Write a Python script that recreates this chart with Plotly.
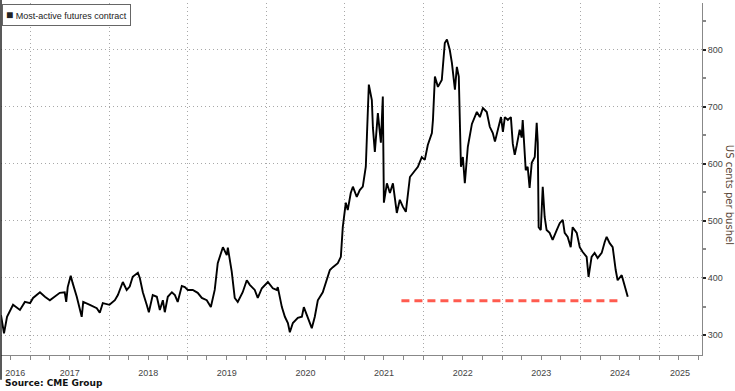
import plotly.graph_objects as go

# ---- data ----
dates = [
    "2016-08-17", "2016-08-31", "2016-09-14", "2016-10-12", "2016-11-13", "2016-12-06", "2016-12-30",
    "2017-01-13", "2017-02-14", "2017-03-09", "2017-04-01", "2017-04-24", "2017-05-17", "2017-06-09",
    "2017-06-16", "2017-06-23", "2017-07-07", "2017-07-16", "2017-08-04", "2017-08-27", "2017-09-03",
    "2017-10-04", "2017-11-05", "2017-11-19", "2017-12-03",
    "2018-01-03", "2018-01-28", "2018-02-11", "2018-03-06", "2018-03-24", "2018-04-07", "2018-04-21",
    "2018-05-10", "2018-05-15", "2018-05-24", "2018-06-07", "2018-06-25", "2018-07-05", "2018-07-23",
    "2018-08-11", "2018-08-25", "2018-09-08", "2018-09-17", "2018-10-01", "2018-10-20", "2018-11-03",
    "2018-11-16", "2018-12-05", "2018-12-19",
    "2019-01-02", "2019-01-25", "2019-02-17", "2019-03-08", "2019-03-31", "2019-04-19", "2019-05-07",
    "2019-05-21", "2019-06-09", "2019-06-14", "2019-07-02", "2019-07-07", "2019-07-25", "2019-08-08",
    "2019-08-22", "2019-09-14", "2019-10-03", "2019-10-17", "2019-11-09", "2019-11-23", "2019-12-12",
    "2020-01-04", "2020-01-09", "2020-02-01", "2020-02-19", "2020-02-24", "2020-03-14", "2020-03-28",
    "2020-04-11", "2020-04-20", "2020-05-04", "2020-05-27", "2020-06-15", "2020-06-24", "2020-07-08",
    "2020-07-31", "2020-08-14", "2020-08-28", "2020-09-20", "2020-10-09", "2020-10-23", "2020-11-06",
    "2020-11-29", "2020-12-13", "2020-12-22",
    "2021-01-05", "2021-01-14", "2021-01-28", "2021-02-07", "2021-02-25", "2021-03-11", "2021-03-25",
    "2021-04-08", "2021-04-13", "2021-04-22", "2021-05-06", "2021-05-11", "2021-05-20", "2021-05-29",
    "2021-06-03", "2021-06-17", "2021-06-26", "2021-07-01", "2021-07-15", "2021-07-29", "2021-08-12",
    "2021-08-30", "2021-09-13", "2021-09-27", "2021-10-11", "2021-10-30", "2021-11-13", "2021-12-06",
    "2021-12-24",
    "2022-01-07", "2022-01-21", "2022-02-09", "2022-02-14", "2022-02-23", "2022-03-09", "2022-03-27",
    "2022-04-10", "2022-04-20", "2022-05-03", "2022-05-13", "2022-05-27", "2022-06-05", "2022-06-14",
    "2022-06-24", "2022-07-03", "2022-07-12", "2022-07-26", "2022-08-14", "2022-09-06", "2022-09-20",
    "2022-10-04", "2022-10-22", "2022-11-05", "2022-11-19", "2022-11-29", "2022-12-13", "2022-12-27",
    "2023-01-05", "2023-01-14", "2023-01-28", "2023-02-11", "2023-02-20", "2023-03-01", "2023-03-10",
    "2023-03-24", "2023-04-02", "2023-04-07", "2023-04-21", "2023-04-30", "2023-05-09", "2023-05-19",
    "2023-06-02", "2023-06-11", "2023-06-16", "2023-06-20", "2023-06-30", "2023-07-09", "2023-07-18",
    "2023-07-27", "2023-08-10", "2023-08-24", "2023-09-12", "2023-09-26", "2023-10-10", "2023-10-19",
    "2023-11-02", "2023-11-16", "2023-11-25", "2023-12-14", "2023-12-28",
    "2024-01-10", "2024-01-29", "2024-02-07", "2024-02-21", "2024-03-06", "2024-03-20", "2024-04-08",
    "2024-04-22", "2024-05-01", "2024-05-15", "2024-05-29", "2024-06-12", "2024-06-21", "2024-07-10",
    "2024-07-24", "2024-08-07",
]
price = [
    335, 303, 332, 353, 344, 358, 356,
    365, 375, 367, 361, 367, 374, 375,
    358, 384, 404, 391, 367, 332, 358,
    353, 347, 339, 356,
    353, 361, 370, 393, 379, 385, 402,
    408, 409, 400, 375, 353, 340, 370,
    367, 344, 361, 340, 367, 375, 370,
    358, 386, 384,
    379, 379, 374, 365, 361, 349, 379,
    426, 449, 454, 440, 453, 411, 365,
    358, 375, 396, 388, 379, 365, 382,
    391, 393, 382, 379, 384, 349, 332,
    321, 305, 321, 330, 332, 349, 335,
    312, 332, 361, 375, 396, 414, 419,
    426, 437, 489,
    532, 519, 549, 560, 542, 554, 560,
    595, 647, 739, 712, 663, 621, 677,
    689, 637, 718, 532, 566, 549, 566,
    514, 537, 525, 516, 577, 584, 595,
    612,
    607, 633, 654, 677, 753, 735, 747,
    812, 818, 800, 777, 730, 770, 753,
    595, 612, 566, 630, 670, 691, 682,
    698, 691, 665, 654, 639, 660, 682,
    656, 682, 677, 682, 635, 616, 632,
    660, 646, 677, 589, 595, 558, 602,
    612, 672, 637, 489, 484, 560, 507,
    484, 479, 467, 484, 496, 502, 479,
    472, 454, 489, 479, 454,
    446, 437, 402, 437, 444, 435, 444,
    463, 472, 461, 454, 414, 396, 405,
    384, 367,
]

series_name = "Most-active futures contract"
year_starts = ["2017-01-01", "2018-01-01", "2019-01-01", "2020-01-01", "2021-01-01",
               "2022-01-01", "2023-01-01", "2024-01-01", "2025-01-01"]
quarter_ticks = [f"{y}-{m:02d}-01" for y in range(2016, 2026) for m in (1, 4, 7, 10)]
year_label_pos = ["2016-10-22", "2017-07-02", "2018-07-02", "2019-07-02", "2020-07-02",
                  "2021-07-02", "2022-07-02", "2023-07-02", "2024-07-02", "2025-04-07"]
year_labels = ["2016", "2017", "2018", "2019", "2020", "2021", "2022", "2023", "2024", "2025"]
y_ticks = [300, 400, 500, 600, 700, 800]

arrow_dates = ["2024-06-20", "2021-09-13"]
arrow_level = [360, 360]

x_range = ["2016-08-17", "2025-07-18"]
y_range = [265, 882]

FONT = "Liberation Sans, Arial"
RED = "#ff5b4f"
GRID = "#a8a8a8"

fig = go.Figure()

fig.add_trace(go.Scatter(
    x=dates, y=price, mode="lines", name=series_name,
    line=dict(color="black", width=1.9), showlegend=False,
))
# dashed red arrow shaft
fig.add_trace(go.Scatter(
    x=arrow_dates, y=arrow_level, mode="lines", showlegend=False,
    line=dict(color=RED, width=3, dash="8px,5px"), hoverinfo="skip",
))
# arrow head
fig.add_annotation(
    x=arrow_dates[1], y=arrow_level[1], ax="2021-10-05", ay=arrow_level[1],
    xref="x", yref="y", axref="x", ayref="y",
    showarrow=True, arrowhead=5, arrowsize=0.8, arrowwidth=2.5, arrowcolor=RED, text="",
)
# dummy trace on xaxis2 so the label axis renders
fig.add_trace(go.Scatter(x=[None], y=[None], xaxis="x2", showlegend=False, hoverinfo="skip"))

fig.update_layout(
    width=735, height=391,
    margin=dict(l=1, r=33, t=3, b=36),
    paper_bgcolor="white", plot_bgcolor="white",
    font=dict(family=FONT, size=9, color="#444"),
    showlegend=False,
    xaxis=dict(
        type="date", range=x_range,
        tickvals=year_starts, ticktext=[""] * len(year_starts),
        ticks="outside", ticklen=21, tickcolor="#b0b0b0", tickwidth=1,
        showgrid=True, gridcolor=GRID, griddash="1px,3px", gridwidth=1,
        showline=True, linecolor="#888", linewidth=1,
        minor=dict(tickvals=quarter_ticks, ticks="outside", ticklen=4, tickcolor="#888", showgrid=False),
        zeroline=False,
    ),
    xaxis2=dict(
        type="date", range=x_range, overlaying="x", side="bottom", anchor="y",
        tickvals=year_label_pos, ticktext=year_labels,
        ticks="outside", ticklen=9, tickcolor="rgba(0,0,0,0)",
        showgrid=False, showline=False, zeroline=False,
        tickfont=dict(family=FONT, size=9, color="#444"),
    ),
    yaxis=dict(
        side="right", range=y_range,
        tickvals=y_ticks, ticks="outside", ticklen=3, tickwidth=2, tickcolor="#222",
        showgrid=True, gridcolor=GRID, griddash="1px,3px", gridwidth=1,
        showline=True, linecolor="#888", linewidth=1,
        minor=dict(dtick=50, tick0=250, ticks="outside", ticklen=3, tickcolor="#888", showgrid=False),
        tickfont=dict(family=FONT, size=9, color="#444"),
        zeroline=False,
    ),
)

# legend box (key) at top-left
fig.add_annotation(
    text="<span style='font-size:12px'>■</span> " + series_name,
    xref="paper", yref="paper", x=0, xshift=1, y=1, yshift=-1, xanchor="left", yanchor="top",
    showarrow=False, align="left",
    font=dict(family=FONT, size=9, color="#222"),
    bgcolor="white", bordercolor="#666", borderwidth=1, borderpad=3,
)
fig.add_annotation(
    text="US cents per bushel", textangle=90,
    xref="paper", yref="paper", x=1.0, xshift=27, xanchor="center",
    y=0.455, yanchor="middle",
    showarrow=False, font=dict(family="DejaVu Sans", size=10, color="#5b4636"),
)
fig.add_annotation(
    text="<b>Source: CME Group</b>",
    xref="paper", yref="paper", x=0, xshift=2, y=-0.0795, xanchor="left", yanchor="middle",
    showarrow=False, font=dict(family="DejaVu Sans", size=9, color="#111"),
)
fig.add_shape(type="line", xref="paper", yref="paper", x0=0, x1=0, y0=-0.07, y1=1.01,
              line=dict(color="#222", width=1.5))

fig.write_html(
    "out.html",
    config={"displayModeBar": False},
    post_script="document.body.style.margin='0';document.body.style.padding='0';",
)
